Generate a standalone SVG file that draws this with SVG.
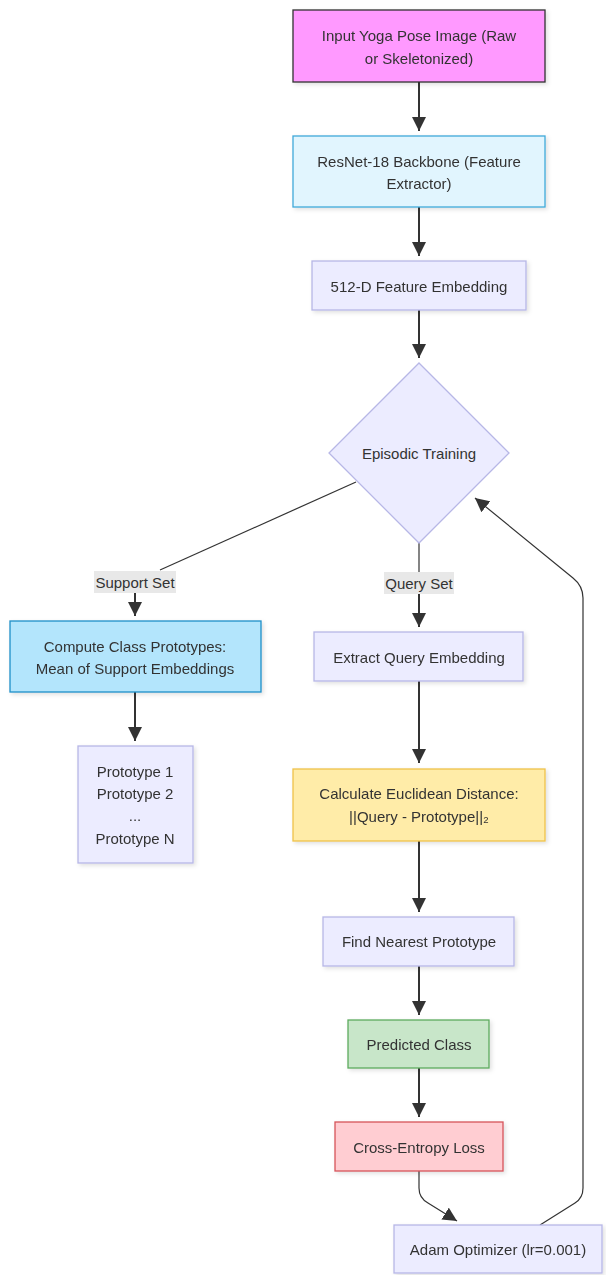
<svg xmlns="http://www.w3.org/2000/svg" width="606" height="1275" viewBox="0 0 606 1275">
<defs>
<style>
text{font-family:"Liberation Sans",Arial,sans-serif;font-size:15px;fill:#333;text-anchor:middle;dominant-baseline:central}
.def{fill:#ececff;stroke:#b7b7e6;stroke-width:1.3}
.edge{fill:none;stroke:#333;stroke-width:2}
.thin{fill:none;stroke:#333;stroke-width:1.2}
.lbl{fill:#e8e8e8}
</style>
<filter id="sh" x="-10%" y="-10%" width="130%" height="140%">
<feDropShadow dx="2" dy="2" stdDeviation="2" flood-color="#000" flood-opacity="0.12"/>
</filter>
<marker id="ah" viewBox="0 0 10 10" refX="10" refY="5" markerWidth="14" markerHeight="14" markerUnits="userSpaceOnUse" orient="auto">
<path d="M0,0 L10,5 L0,10 z" fill="#333"/>
</marker>
</defs>
<rect width="606" height="1275" fill="#fff"/>
<g id="edges">
<path class="edge" d="M419,82 V131" marker-end="url(#ah)"/>
<path class="edge" d="M419,207 V256" marker-end="url(#ah)"/>
<path class="edge" d="M419,310 V358" marker-end="url(#ah)"/>
<path class="thin" d="M356,482 L160,570"/>
<path class="edge" d="M135,593 V616" marker-end="url(#ah)"/>
<path class="thin" d="M419,543 V572"/>
<path class="edge" d="M419,594 V627" marker-end="url(#ah)"/>
<path class="edge" d="M135,692 V741" marker-end="url(#ah)"/>
<path class="edge" d="M419,681 V763" marker-end="url(#ah)"/>
<path class="edge" d="M419,841 V912" marker-end="url(#ah)"/>
<path class="edge" d="M419,966 V1015" marker-end="url(#ah)"/>
<path class="edge" d="M419,1068 V1117" marker-end="url(#ah)"/>
<path class="thin" d="M419,1171 V1188 Q419,1198 428,1203 L457,1221" marker-end="url(#ah)"/>
<path class="thin" d="M540,1225 L575,1203 Q583,1198 583,1188 V598 Q583,586 573,578 L475,498" marker-end="url(#ah)"/>
</g>
<g id="label-support">
<rect class="lbl" x="94" y="571" width="82" height="22"/>
<text x="135" y="582">Support Set</text>
</g>
<g id="label-query">
<rect class="lbl" x="384" y="572" width="70" height="22"/>
<text x="419" y="583">Query Set</text>
</g>
<g id="input" filter="url(#sh)">
<rect x="293" y="10" width="252" height="72" fill="#ff99ff" stroke="#333" stroke-width="1.3"/>
<text x="419" y="35">Input Yoga Pose Image (Raw</text>
<text x="419" y="58">or Skeletonized)</text>
</g>
<g id="backbone" filter="url(#sh)">
<rect x="293" y="136" width="252" height="71" fill="#e1f5fe" stroke="#3fa9d9" stroke-width="1.3"/>
<text x="419" y="161">ResNet-18 Backbone (Feature</text>
<text x="419" y="183">Extractor)</text>
</g>
<g id="embedding" filter="url(#sh)">
<rect class="def" x="312" y="261" width="214" height="49"/>
<text x="419" y="286">512-D Feature Embedding</text>
</g>
<g id="episodic">
<polygon class="def" points="419,363 509,453 419,543 329,453"/>
<text x="419" y="453">Episodic Training</text>
</g>
<g id="prototypes-compute" filter="url(#sh)">
<rect x="10" y="621" width="251" height="71" fill="#b3e5fc" stroke="#1e90c8" stroke-width="1.3"/>
<text x="135" y="646">Compute Class Prototypes:</text>
<text x="135" y="668">Mean of Support Embeddings</text>
</g>
<g id="prototype-list" filter="url(#sh)">
<rect class="def" x="78" y="746" width="115" height="117"/>
<text x="135" y="771">Prototype 1</text>
<text x="135" y="793">Prototype 2</text>
<text x="135" y="815">...</text>
<text x="135" y="838">Prototype N</text>
</g>
<g id="query-embed" filter="url(#sh)">
<rect class="def" x="314" y="632" width="209" height="49"/>
<text x="419" y="657">Extract Query Embedding</text>
</g>
<g id="distance" filter="url(#sh)">
<rect x="293" y="769" width="252" height="72" fill="#ffeca8" stroke="#efc24a" stroke-width="1.3"/>
<text x="419" y="793">Calculate Euclidean Distance:</text>
<text x="419" y="816">||Query - Prototype||₂</text>
</g>
<g id="nearest" filter="url(#sh)">
<rect class="def" x="323" y="917" width="191" height="49"/>
<text x="419" y="941">Find Nearest Prototype</text>
</g>
<g id="predicted" filter="url(#sh)">
<rect x="348" y="1020" width="141" height="48" fill="#c8e6c9" stroke="#5cab5f" stroke-width="1.3"/>
<text x="419" y="1044">Predicted Class</text>
</g>
<g id="loss" filter="url(#sh)">
<rect x="335" y="1122" width="168" height="49" fill="#ffcdd2" stroke="#d6545a" stroke-width="1.3"/>
<text x="419" y="1147">Cross-Entropy Loss</text>
</g>
<g id="adam" filter="url(#sh)">
<rect class="def" x="394" y="1225" width="208" height="48"/>
<text x="498" y="1249">Adam Optimizer (lr=0.001)</text>
</g>
</svg>
